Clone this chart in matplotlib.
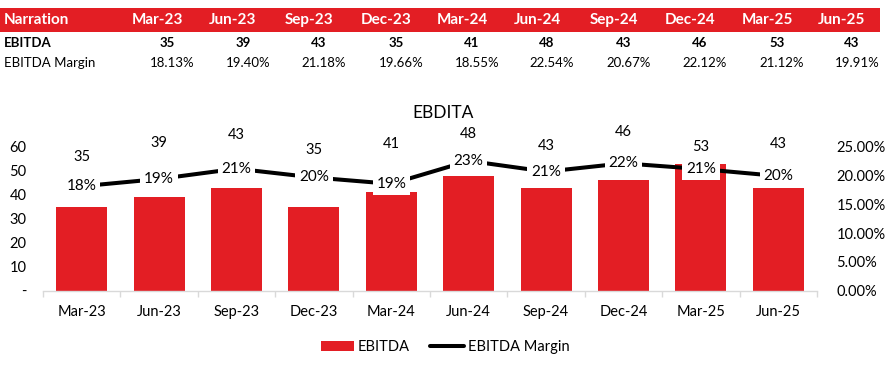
import matplotlib
matplotlib.use("Agg")
import matplotlib.pyplot as plt
from matplotlib.patches import Rectangle
from matplotlib.ticker import FixedLocator, FuncFormatter

plt.rcParams['font.family'] = ['Lato', 'DejaVu Sans']

# ---- data ----
periods = ["Mar-23", "Jun-23", "Sep-23", "Dec-23", "Mar-24",
           "Jun-24", "Sep-24", "Dec-24", "Mar-25", "Jun-25"]
ebitda = [35, 39, 43, 35, 41, 48, 43, 46, 53, 43]
margin_pct = [18.13, 19.40, 21.18, 19.66, 18.55, 22.54, 20.67, 22.12, 21.12, 19.91]
left_ticks = [0, 10, 20, 30, 40, 50, 60]
right_ticks = [0, 5, 10, 15, 20, 25]

# ---- layout (positions only) ----
bar_label_y = [55.7, 61.5, 64.9, 58.6, 61.1, 65.3, 60.3, 66.1, 59.9, 61.1]
col_x = [157, 233, 309, 386, 462, 537, 614, 690, 767, 842]

RED = "#E31E24"
W, H = 888, 371
fig = plt.figure(figsize=(W / 100, H / 100), dpi=100)

def fx(x):
    return x / W

def fy(y):
    return 1 - y / H

# ---- table at top ----
fig.patches.append(Rectangle((fx(0), fy(32)), fx(880), 24 / H, transform=fig.transFigure,
                             facecolor=RED, edgecolor="none", zorder=0))
fig.text(fx(4), fy(20), "Narration", color="white", fontweight="bold", fontsize=11,
         ha="left", va="center")
for x, p in zip(col_x, periods):
    fig.text(fx(x), fy(20), p, color="white", fontweight="bold", fontsize=11,
             ha="center", va="center")
fig.text(fx(4), fy(43), "EBITDA", color="black", fontweight="bold", fontsize=9.5,
         ha="left", va="center")
fig.text(fx(4), fy(63), "EBITDA Margin", color="black", fontsize=9.5,
         ha="left", va="center")
for x, v, m in zip(col_x, ebitda, margin_pct):
    fig.text(fx(x + 10), fy(43), f"{v}", color="black", fontweight="bold", fontsize=9.5,
             ha="center", va="center")
    fig.text(fx(x + 15), fy(63), f"{m:.2f}%", color="black", fontsize=9.5,
             ha="center", va="center")

# ---- chart ----
ax = fig.add_axes([fx(43), fy(290.7), fx(817 - 43), (290.7 - 146.7) / H])
xs = list(range(len(periods)))
ax.bar(xs, ebitda, width=0.66, color=RED, zorder=2, label="EBITDA")
ax.set_xlim(-0.5, len(periods) - 0.5)
ax.set_ylim(0, 60)
ax.yaxis.set_major_locator(FixedLocator(left_ticks))
ax.yaxis.set_major_formatter(FuncFormatter(lambda v, p: "-" if v == 0 else f"{v:g}"))
ax.tick_params(axis="y", length=0, labelsize=10.5, pad=12)
ax.set_xticks(xs)
ax.set_xticklabels(periods, fontsize=10.5)
ax.tick_params(axis="x", length=0, pad=10)
ax.set_xticks([i - 0.5 for i in range(len(periods) + 1)], minor=True)
ax.tick_params(axis="x", which="minor", length=4, color="#D9D9D9", width=1)
for s in ["top", "right", "left"]:
    ax.spines[s].set_visible(False)
ax.spines["bottom"].set_color("#D9D9D9")
ax.spines["bottom"].set_linewidth(1)

for x, v, ly in zip(xs, ebitda, bar_label_y):
    ax.text(x, ly, f"{v}", ha="center", va="center", fontsize=10.5, clip_on=False, zorder=5)

ax2 = ax.twinx()
ax2.set_ylim(0, 25)
ax2.plot(xs, margin_pct, color="black", linewidth=2.9, zorder=3, label="EBITDA Margin",
         solid_capstyle="round")
ax2.yaxis.set_major_locator(FixedLocator(right_ticks))
ax2.yaxis.set_major_formatter(FuncFormatter(lambda v, p: f"{v:.2f}%"))
ax2.tick_params(axis="y", length=0, labelsize=10.5, pad=14)
for s in ["top", "right", "left", "bottom"]:
    ax2.spines[s].set_visible(False)
for x, m in zip(xs, margin_pct):
    ax2.text(x, m, f"{m:.0f}%", ha="center", va="center", fontsize=11, zorder=6,
             bbox=dict(facecolor="white", edgecolor="none", boxstyle="square,pad=0.25"))

fig.text(fx(443), fy(113), "EBDITA", ha="center", va="center", fontsize=12.5)

h1, l1 = ax.get_legend_handles_labels()
h2, l2 = ax2.get_legend_handles_labels()
fig.legend(h1 + h2, l1 + l2, loc="center", bbox_to_anchor=(fx(445), fy(347)), ncol=2,
           frameon=False, fontsize=10.5, handlelength=2.3, handleheight=0.7,
           columnspacing=1.4, handletextpad=0.25)

fig.savefig("out.png", dpi=100, facecolor="white")
